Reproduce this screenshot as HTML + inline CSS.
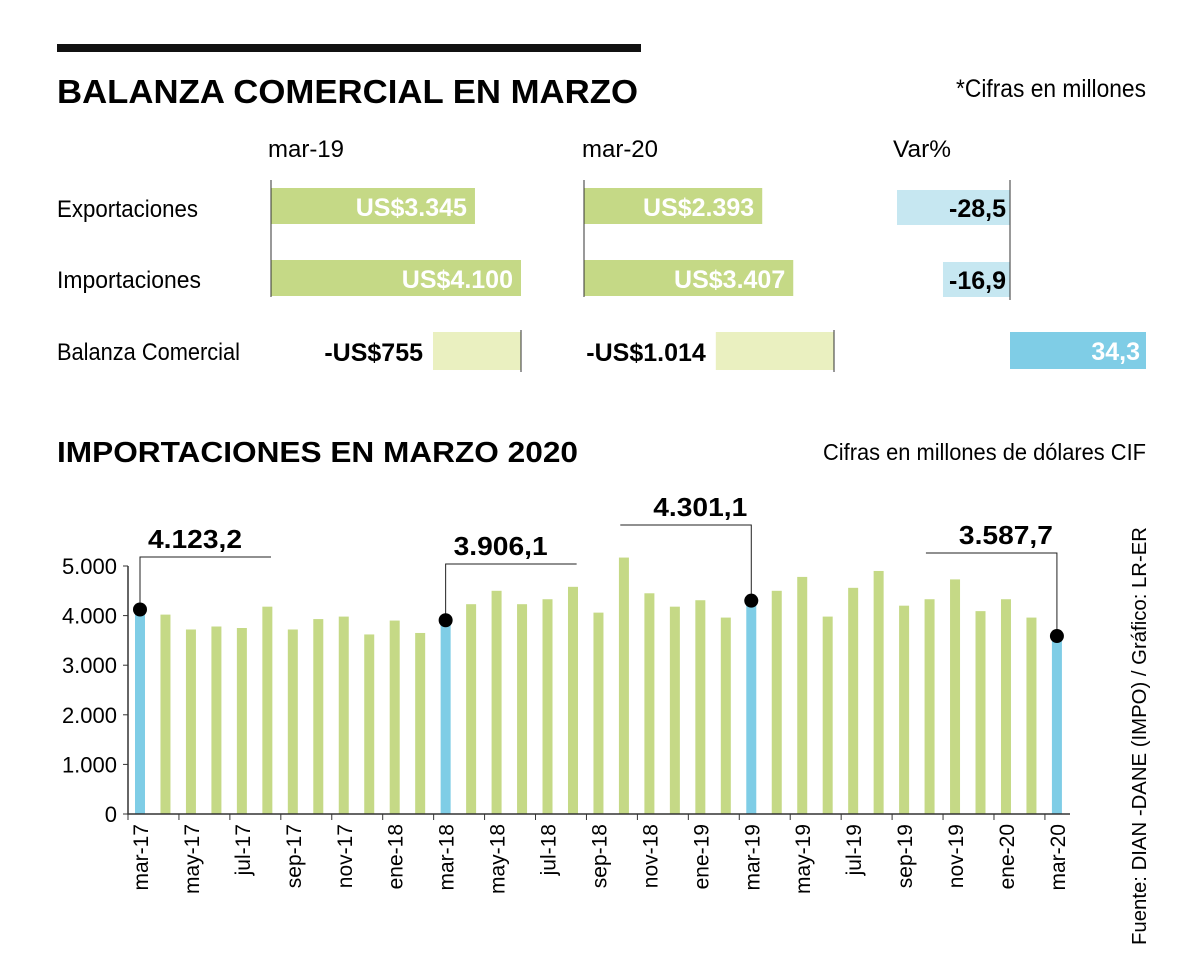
<!DOCTYPE html>
<html><head><meta charset="utf-8"><style>
html,body{margin:0;padding:0;background:#fff}
svg{display:block;font-family:"Liberation Sans",sans-serif}
</style></head><body>
<svg id="chart" width="1200" height="966" viewBox="0 0 1200 966">
<rect x="57" y="44" width="584" height="8" fill="#111"/>
<text x="57" y="103" font-size="33" font-weight="bold" textLength="581" lengthAdjust="spacingAndGlyphs">BALANZA COMERCIAL EN MARZO</text>
<text x="1146" y="97" font-size="25" text-anchor="end" textLength="190" lengthAdjust="spacingAndGlyphs">*Cifras en millones</text>
<g font-size="24">
<text x="268" y="157" textLength="76" lengthAdjust="spacingAndGlyphs">mar-19</text>
<text x="582" y="157" textLength="76" lengthAdjust="spacingAndGlyphs">mar-20</text>
<text x="893" y="157" textLength="58" lengthAdjust="spacingAndGlyphs">Var%</text>
<text x="57" y="217" textLength="141" lengthAdjust="spacingAndGlyphs">Exportaciones</text>
<text x="57" y="288" textLength="144" lengthAdjust="spacingAndGlyphs">Importaciones</text>
<text x="57" y="360" textLength="183" lengthAdjust="spacingAndGlyphs">Balanza Comercial</text>
</g>
<g id="topG"></g>
<text x="57" y="462" font-size="29" font-weight="bold" textLength="521" lengthAdjust="spacingAndGlyphs">IMPORTACIONES EN MARZO 2020</text>
<text x="1146" y="460" font-size="23" text-anchor="end" textLength="323" lengthAdjust="spacingAndGlyphs">Cifras en millones de dólares CIF</text>
<text transform="translate(1146,945) rotate(-90)" font-size="20" textLength="418" lengthAdjust="spacingAndGlyphs">Fuente: DIAN -DANE (IMPO) / Gráfico: LR-ER</text>
<g id="plot"></g>
</svg>
<script>
const NS="http://www.w3.org/2000/svg";
function mk(parent,tag,attrs,txt){const e=document.createElementNS(NS,tag);for(const k in attrs)e.setAttribute(k,attrs[k]);if(txt!==undefined)e.textContent=txt;parent.appendChild(e);return e;}

// ---- top table data ----
const rowsTop=["Exportaciones","Importaciones"];
const mar19=[3345,4100];
const mar20=[2393,3407];
const mar19Labels=["US$3.345","US$4.100"];
const mar20Labels=["US$2.393","US$3.407"];
const balanza=[-755,-1014];
const balanzaLabels=["-US$755","-US$1.014"];
const varPct=[-28.5,-16.9,34.3];
const varLabels=["-28,5","-16,9","34,3"];

const topG=document.getElementById('topG');
const scales=[v=>v*250/4100, v=>105+v*0.0306];
const rowY=[188,260];
const colX=[271,584];
[mar19,mar20].forEach((series,ci)=>{
  const labs=ci?mar20Labels:mar19Labels;
  const sc=scales[ci];
  series.forEach((v,ri)=>{
    const r=mk(topG,'rect',{x:colX[ci],y:rowY[ri],width:sc(v),height:36,fill:'#c5d986'});
    
    
    const t=mk(topG,'text',{x:colX[ci]+sc(v)-8,y:rowY[ri]+28,'font-size':25,'font-weight':'bold',fill:'#fff','text-anchor':'end'},labs[ri]);
    
    
  });
  const l=mk(topG,'line',{x1:colX[ci],x2:colX[ci],y1:180,y2:297,stroke:'#333','stroke-width':1});
  
  
  const bv=balanza[ci];
  const right=colX[ci]+250;
  const bw=-bv*88/755;
  const br=mk(topG,'rect',{x:right-bw,y:332,width:bw,height:38,fill:'#eaf0c0'});
  
  
  mk(topG,'line',{x1:right,x2:right,y1:330,y2:372,stroke:'#333','stroke-width':1});
  const bt=mk(topG,'text',{x:right-bw-10,y:361,'font-size':25,'font-weight':'bold','text-anchor':'end'},balanzaLabels[ci]);
  
  
});
const vx=1010, vsc=v=>v*136/34.3;
const vy=[190,262,332];
varPct.forEach((v,i)=>{
  const w=Math.abs(vsc(v));
  const x=v<0?vx-w:vx;
  const r=mk(topG,'rect',{x:x,y:vy[i],width:w,height:i==2?37:35,fill:v<0?'#c6e7f1':'#7fcde6'});
  
  
  const t=v<0?mk(topG,'text',{x:vx-4,y:vy[i]+27,'font-size':25,'font-weight':'bold','text-anchor':'end'},varLabels[i])
             :mk(topG,'text',{x:vx+w-6,y:vy[i]+28,'font-size':25,'font-weight':'bold',fill:'#fff','text-anchor':'end'},varLabels[i]);
  
  
});
const vl=mk(topG,'line',{x1:vx,x2:vx,y1:180,y2:300,stroke:'#333','stroke-width':1});



// ---- bar chart data ----
const months=["mar-17","abr-17","may-17","jun-17","jul-17","ago-17","sep-17","oct-17","nov-17","dic-17","ene-18","feb-18","mar-18","abr-18","may-18","jun-18","jul-18","ago-18","sep-18","oct-18","nov-18","dic-18","ene-19","feb-19","mar-19","abr-19","may-19","jun-19","jul-19","ago-19","sep-19","oct-19","nov-19","dic-19","ene-20","feb-20","mar-20"];
const imports=[4123.2,4020,3720,3780,3750,4180,3720,3930,3980,3620,3900,3650,3906.1,4230,4500,4230,4330,4580,4060,5170,4450,4180,4310,3960,4301.1,4500,4780,3980,4560,4900,4200,4330,4730,4090,4330,3960,3587.7];
const yTicks=[0,1000,2000,3000,4000,5000];
const yTickLabels=["0","1.000","2.000","3.000","4.000","5.000"];
const highlights=[0,12,24,36];
const highlightLabels=["4.123,2","3.906,1","4.301,1","3.587,7"];

const plot=document.getElementById('plot');
const y0=814, pxPer=248/5000;
const yS=v=>y0-v*pxPer;
const xS=i=>140+i*25.47;
yTicks.forEach((t,i)=>{
  mk(plot,'line',{x1:123,x2:128,y1:yS(t),y2:yS(t),stroke:'#333'});
  const tx=mk(plot,'text',{x:117,y:yS(t)+8,'font-size':22,'text-anchor':'end'},yTickLabels[i]);
  
  
});
imports.forEach((v,i)=>{
  const hl=highlights.includes(i);
  const r=mk(plot,'rect',{x:xS(i)-5,y:yS(v),width:10,height:y0-yS(v),fill:hl?'#7fcde6':'#c5d986'});
  
  
  if(i%2==0){
    mk(plot,'line',{x1:xS(i)-12,x2:xS(i)-12,y1:y0,y2:y0+6,stroke:'#333'});
    const t=mk(plot,'text',{transform:`translate(${xS(i)+8},${y0+10}) rotate(-90)`,'font-size':21,'text-anchor':'end'},months[i]);
    
    
  }
});
const ax=mk(plot,'path',{d:`M128 566 V${y0} H1070`,stroke:'#333',fill:'none','stroke-width':1.5});


const annLineY=[557,564,525,553];
const annDir=[1,1,-1,-1];
highlights.forEach((idx,k)=>{
  const x=xS(idx), y=yS(imports[idx]);
  const hx=annDir[k]>0?x+131:x-131;
  mk(plot,'path',{d:`M${hx} ${annLineY[k]} H${x} V${y}`,stroke:'#222',fill:'none','stroke-width':1});
  const d=mk(plot,'circle',{cx:x,cy:y,r:7,fill:'#000'});
  
  
  const tx=annDir[k]>0?x+8:x-4;
  const t=mk(plot,'text',{x:tx,y:annLineY[k]-9,'font-size':26,'font-weight':'bold','text-anchor':annDir[k]>0?'start':'end',textLength:94,lengthAdjust:'spacingAndGlyphs'},highlightLabels[k]);
  
  
});
</script>
</body></html>
